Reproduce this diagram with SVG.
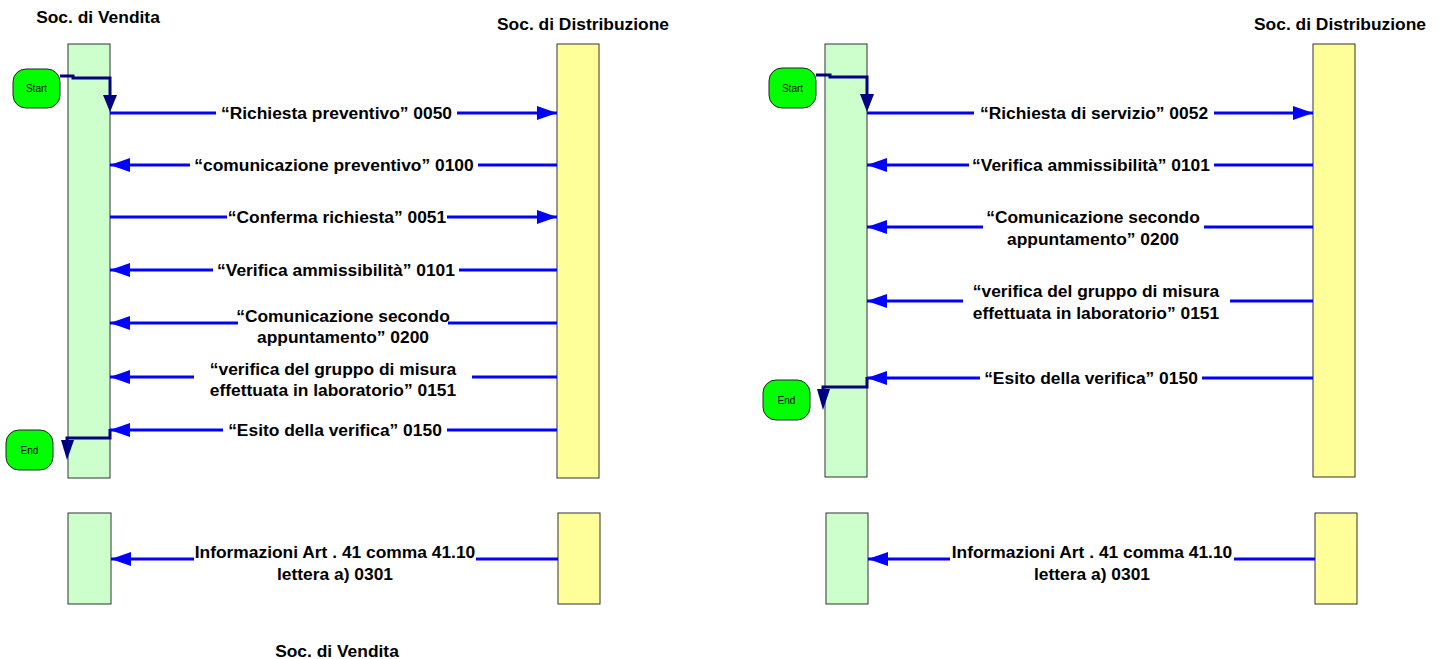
<svg xmlns="http://www.w3.org/2000/svg" width="1445" height="659" viewBox="0 0 1445 659" xml:space="preserve">
<style>
.g{fill:#ccffcc;stroke:#333;stroke-width:1}
.y{fill:#ffff99;stroke:#333;stroke-width:1}
.term{fill:#00ff00;stroke:#222;stroke-width:1}
.tt{font-family:"Liberation Sans",Arial,sans-serif;font-size:10px;fill:#000;text-anchor:middle}
.t{font-family:"Liberation Sans",Arial,sans-serif;font-size:17.4px;font-weight:bold;fill:#000;text-anchor:middle}
.m{stroke:#0000ff;stroke-width:3;fill:none}
.n{stroke:#000080;stroke-width:3;fill:none}
.nh{fill:#000080}
</style>
<defs>
<marker id="ah" markerUnits="userSpaceOnUse" markerWidth="20" markerHeight="14" refX="20" refY="7" orient="auto">
<path d="M0,0 L20,7 L0,14 Z" fill="#0000ff"/>
</marker>
</defs>
<rect width="1445" height="659" fill="#fff"/>

<g id="titles">
<text class="t" x="98" y="23">Soc. di Vendita</text>
<text class="t" x="583" y="30">Soc. di Distribuzione</text>
<text class="t" x="1340" y="30">Soc. di Distribuzione</text>
<text class="t" x="337" y="657">Soc. di Vendita</text>
</g>

<g id="lifeline-vendita-1"><rect class="g" x="68" y="44" width="42" height="434"/></g>
<g id="lifeline-distribuzione-1"><rect class="y" x="557" y="44" width="42" height="434"/></g>
<g id="lifeline-vendita-2"><rect class="g" x="825" y="44" width="42" height="433"/></g>
<g id="lifeline-distribuzione-2"><rect class="y" x="1313" y="44" width="42" height="433"/></g>
<g id="box-vendita-1b"><rect class="g" x="68" y="513" width="43" height="91"/></g>
<g id="box-distribuzione-1b"><rect class="y" x="558" y="513" width="42" height="91"/></g>
<g id="box-vendita-2b"><rect class="g" x="826" y="513" width="42" height="91"/></g>
<g id="box-distribuzione-2b"><rect class="y" x="1315" y="513" width="42" height="91"/></g>

<g id="start-1"><rect class="term" x="13" y="69" width="47" height="39" rx="13"/><text class="tt" x="36.5" y="92">Start</text></g>
<g id="end-1"><rect class="term" x="6" y="430" width="47" height="40" rx="13"/><text class="tt" x="29.5" y="454">End</text></g>
<g id="start-2"><rect class="term" x="769" y="68" width="47" height="40" rx="13"/><text class="tt" x="792.5" y="92">Start</text></g>
<g id="end-2"><rect class="term" x="763" y="380" width="47" height="40" rx="13"/><text class="tt" x="786.5" y="404">End</text></g>

<g id="connectors">
<polyline class="n" points="60,76 73,76 73,78 110,78 110,97"/>
<polygon class="nh" points="103,95 117,95 110,112"/>
<polyline class="n" points="110,429 110,438 67,438 67,442"/>
<polygon class="nh" points="61,440 74,440 67,460"/>
<polyline class="n" points="816,75 830,75 830,77 867,77 867,96"/>
<polygon class="nh" points="860,94 874,94 867,112"/>
<polyline class="n" points="867,377 867,387 823,387 823,391"/>
<polygon class="nh" points="817,389 830,389 823,410"/>

<line class="m" x1="110" y1="113" x2="216" y2="113"/><line class="m" x1="457" y1="113" x2="557" y2="113" marker-end="url(#ah)"/>
<line class="m" x1="557" y1="165" x2="478" y2="165"/><line class="m" x1="190" y1="165" x2="110" y2="165" marker-end="url(#ah)"/>
<line class="m" x1="110" y1="217" x2="227" y2="217"/><line class="m" x1="447" y1="217" x2="557" y2="217" marker-end="url(#ah)"/>
<line class="m" x1="557" y1="270" x2="459" y2="270"/><line class="m" x1="213" y1="270" x2="110" y2="270" marker-end="url(#ah)"/>
<line class="m" x1="557" y1="323" x2="448" y2="323"/><line class="m" x1="238" y1="323" x2="110" y2="323" marker-end="url(#ah)"/>
<line class="m" x1="557" y1="377" x2="472" y2="377"/><line class="m" x1="194" y1="377" x2="110" y2="377" marker-end="url(#ah)"/>
<line class="m" x1="557" y1="430" x2="447" y2="430"/><line class="m" x1="223" y1="430" x2="110" y2="430" marker-end="url(#ah)"/>
<line class="m" x1="558" y1="559" x2="476" y2="559"/><line class="m" x1="194" y1="559" x2="111" y2="559" marker-end="url(#ah)"/>

<line class="m" x1="867" y1="113" x2="974" y2="113"/><line class="m" x1="1214" y1="113" x2="1313" y2="113" marker-end="url(#ah)"/>
<line class="m" x1="1313" y1="165" x2="1214" y2="165"/><line class="m" x1="969" y1="165" x2="867" y2="165" marker-end="url(#ah)"/>
<line class="m" x1="1313" y1="227" x2="1204" y2="227"/><line class="m" x1="983" y1="227" x2="867" y2="227" marker-end="url(#ah)"/>
<line class="m" x1="1313" y1="301" x2="1230" y2="301"/><line class="m" x1="963" y1="301" x2="867" y2="301" marker-end="url(#ah)"/>
<line class="m" x1="1313" y1="378" x2="1202" y2="378"/><line class="m" x1="980" y1="378" x2="867" y2="378" marker-end="url(#ah)"/>
<line class="m" x1="1315" y1="559" x2="1234" y2="559"/><line class="m" x1="950" y1="559" x2="868" y2="559" marker-end="url(#ah)"/>
</g>

<g id="labels">
<text class="t" x="336.5" y="119">“Richiesta preventivo”  0050</text>
<text class="t" x="334" y="171">“comunicazione preventivo” 0100</text>
<text class="t" x="337" y="223">“Conferma richiesta” 0051</text>
<text class="t" x="336" y="276">“Verifica ammissibilità”  0101</text>
<text class="t" x="343" y="322">“Comunicazione secondo</text>
<text class="t" x="343" y="343">appuntamento” 0200</text>
<text class="t" x="333" y="375">“verifica del gruppo di misura</text>
<text class="t" x="333" y="396">effettuata in laboratorio”  0151</text>
<text class="t" x="335" y="436">“Esito della verifica”  0150</text>
<text class="t" x="335" y="558">Informazioni Art . 41 comma 41.10</text>
<text class="t" x="335" y="580">lettera a) 0301</text>

<text class="t" x="1094" y="119">“Richiesta di servizio”  0052</text>
<text class="t" x="1091" y="171">“Verifica ammissibilità”  0101</text>
<text class="t" x="1093" y="223">“Comunicazione secondo</text>
<text class="t" x="1093" y="245">appuntamento” 0200</text>
<text class="t" x="1096" y="297">“verifica del gruppo di misura</text>
<text class="t" x="1096" y="319">effettuata in laboratorio”  0151</text>
<text class="t" x="1091" y="384">“Esito della verifica”  0150</text>
<text class="t" x="1092" y="558">Informazioni Art . 41 comma 41.10</text>
<text class="t" x="1092" y="580">lettera a) 0301</text>
</g>
</svg>
